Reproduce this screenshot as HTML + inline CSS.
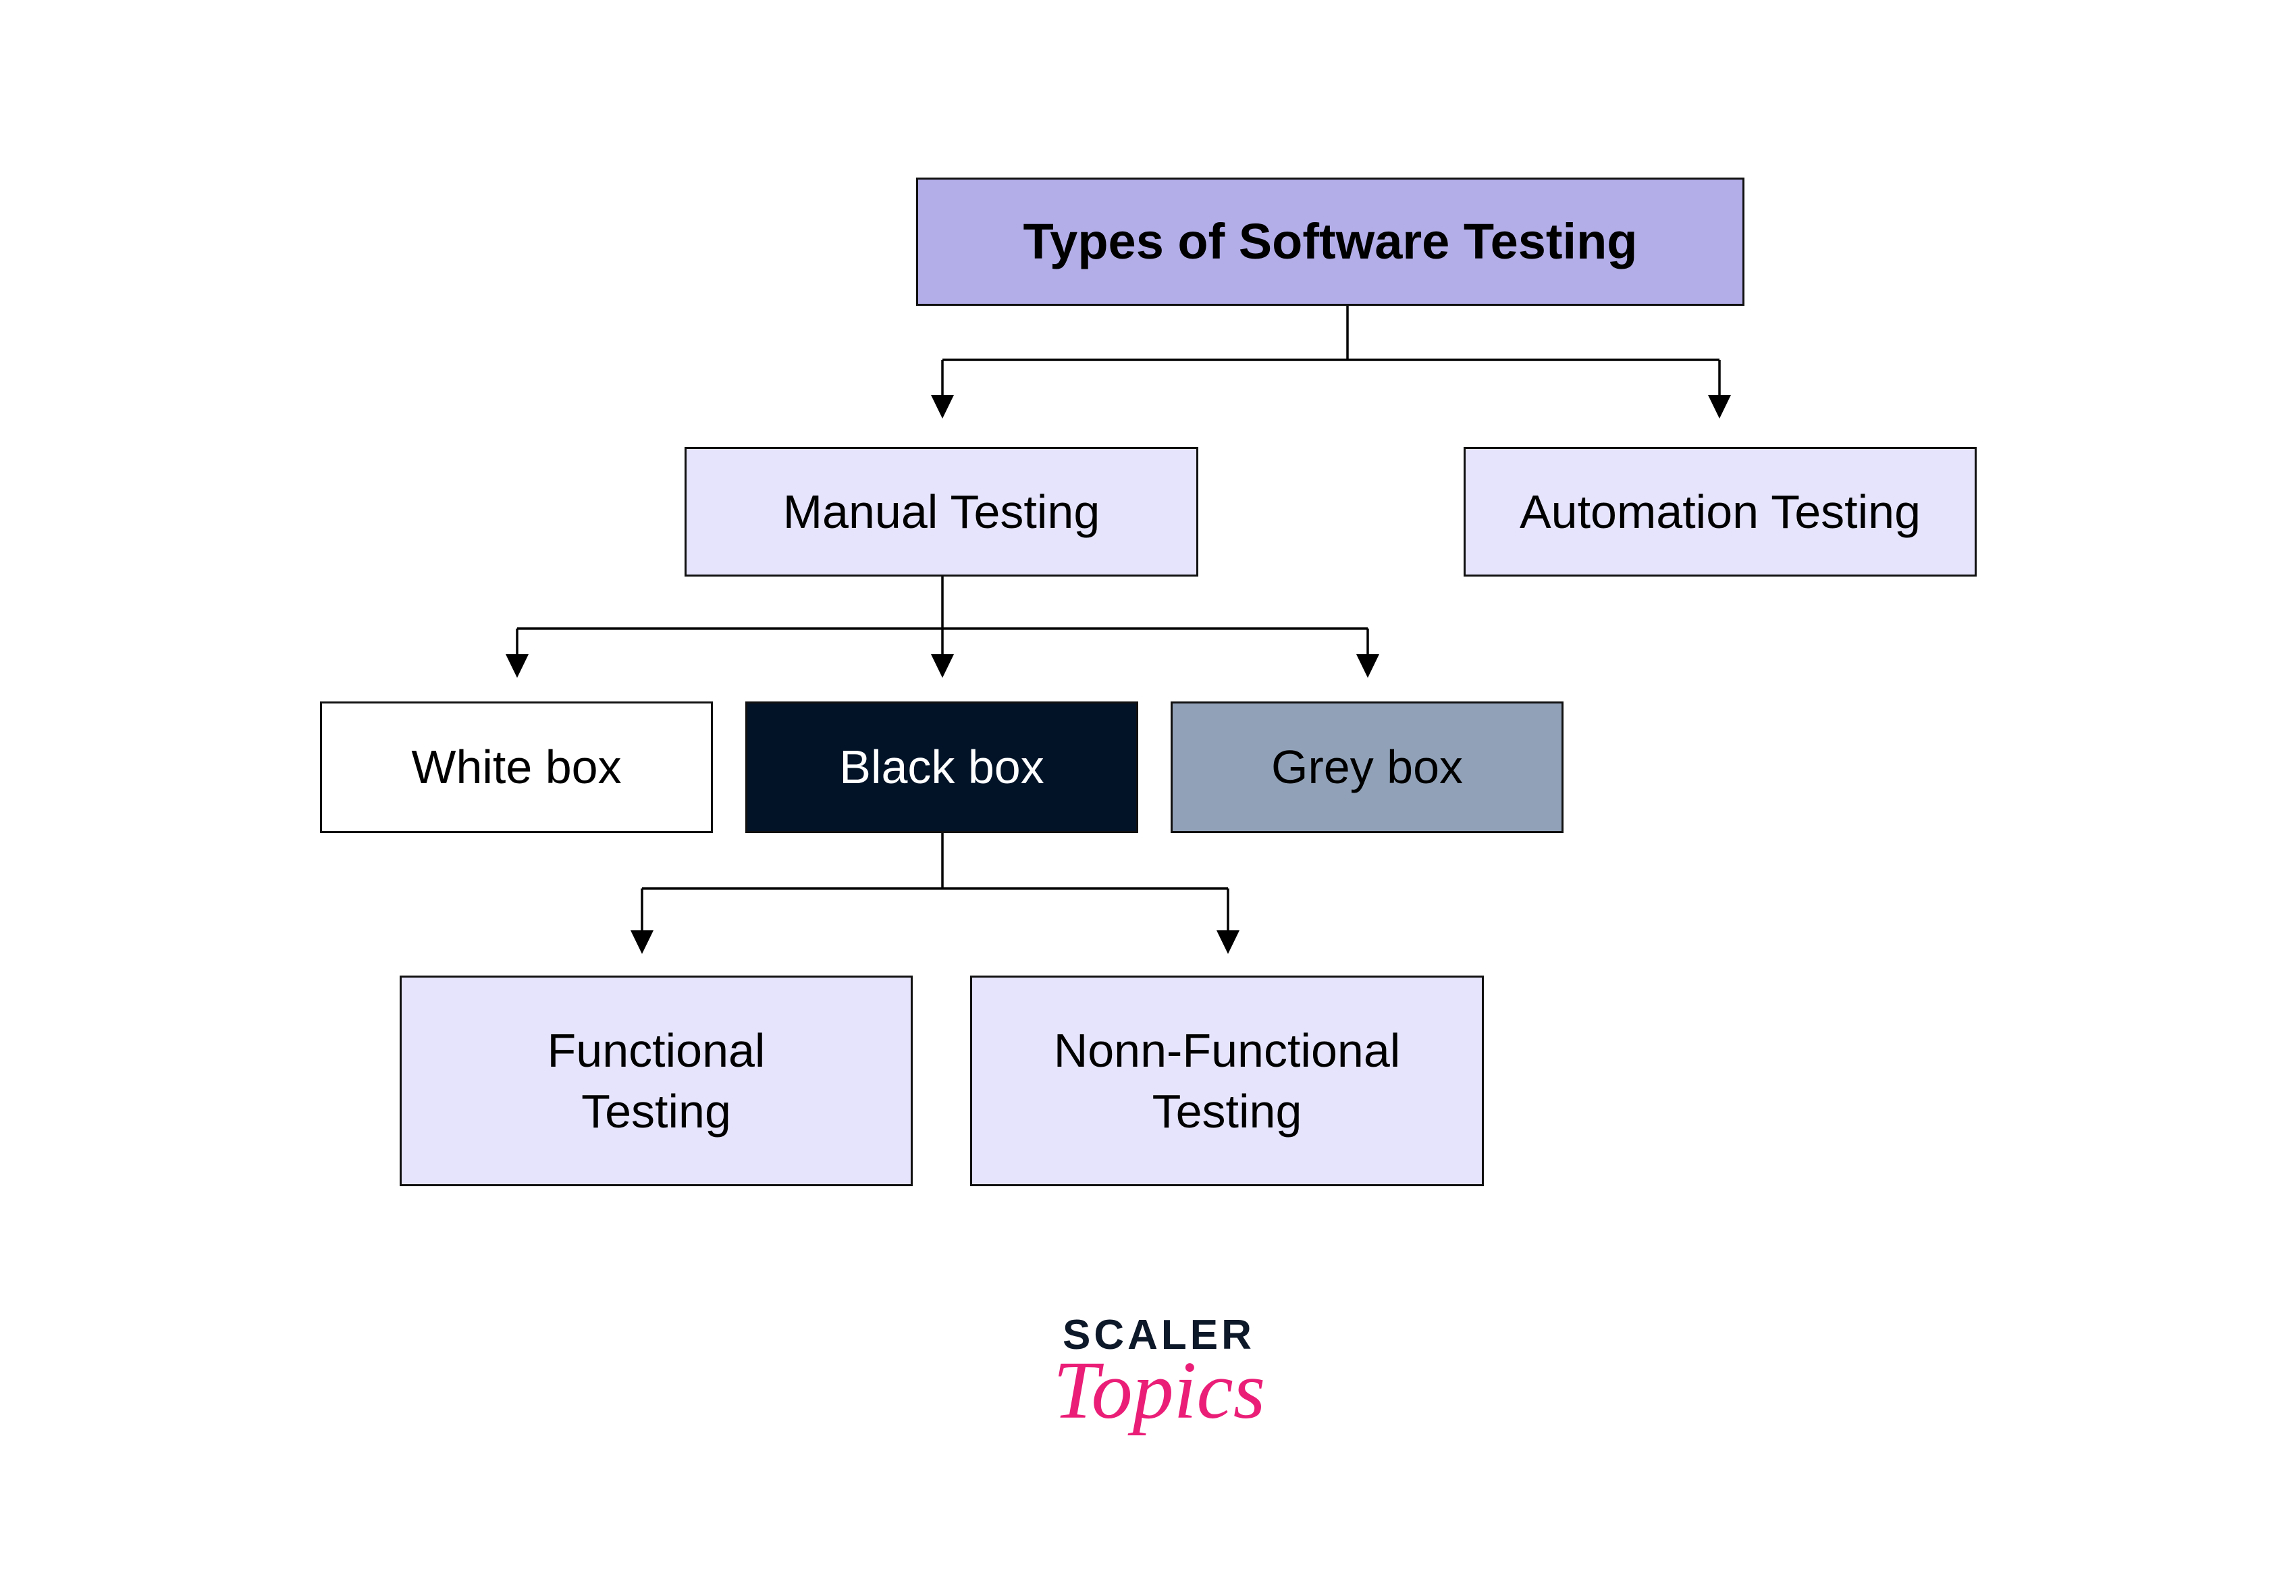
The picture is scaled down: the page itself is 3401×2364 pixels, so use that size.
<!DOCTYPE html>
<html><head><style>
html,body{margin:0;padding:0;background:#fff;}
body{width:3401px;height:2364px;position:relative;overflow:hidden;font-family:"Liberation Sans",sans-serif;}
#w{position:absolute;left:-8px;top:-6px;width:3401px;height:2364px;}
.b{position:absolute;box-sizing:border-box;border:3.5px solid #111;display:flex;align-items:center;justify-content:center;text-align:center;font-size:70px;line-height:1.3;color:#000;}
svg{position:absolute;left:0;top:0;}
</style></head><body>
<div id="w">
<svg width="3401" height="2364">
<g stroke="#000" stroke-width="3.5" fill="none">
<path d="M2004 459V539M1404 539H2555M1404 539V595M2555 539V595"/>
<path d="M1404 860V937M774 937H2034M774 937V980M1404 937V980M2034 937V980"/>
<path d="M1404 1240V1322M959 1322H1827M959 1322V1390M1827 1322V1390"/>
</g>
<g fill="#000">
<path d="M1387 591h34l-17 35z"/><path d="M2538 591h34l-17 35z"/>
<path d="M757 975h34l-17 35z"/><path d="M1387 975h34l-17 35z"/><path d="M2017 975h34l-17 35z"/>
<path d="M942 1384h34l-17 35z"/><path d="M1810 1384h34l-17 35z"/>
</g>
</svg>
<div class="b" style="left:1365px;top:269px;width:1227px;height:190px;background:#b3aee8;font-weight:bold;font-size:74px;">Types of Software Testing</div>
<div class="b" style="left:1022px;top:668px;width:761px;height:192px;background:#e6e4fc;">Manual Testing</div>
<div class="b" style="left:2176px;top:668px;width:760px;height:192px;background:#e6e4fc;">Automation Testing</div>
<div class="b" style="left:482px;top:1045px;width:582px;height:195px;background:#fff;">White box</div>
<div class="b" style="left:1112px;top:1045px;width:582px;height:195px;background:#021328;color:#fff;">Black box</div>
<div class="b" style="left:1742px;top:1045px;width:582px;height:195px;background:#91a2b8;">Grey box</div>
<div class="b" style="left:600px;top:1451px;width:760px;height:312px;background:#e6e4fc;line-height:90px;">Functional<br>Testing</div>
<div class="b" style="left:1445px;top:1451px;width:761px;height:312px;background:#e6e4fc;line-height:90px;">Nonn-Functional<br>Testing</div>
</div>
<div style="position:absolute;left:1574px;top:1942px;font-weight:bold;font-size:62px;letter-spacing:5px;color:#0d1829;">SCALER</div>
<div style="position:absolute;left:1560px;top:1990px;font-family:'Liberation Serif',serif;font-style:italic;font-size:122px;color:#ea1e77;">Topics</div>
</body></html>
